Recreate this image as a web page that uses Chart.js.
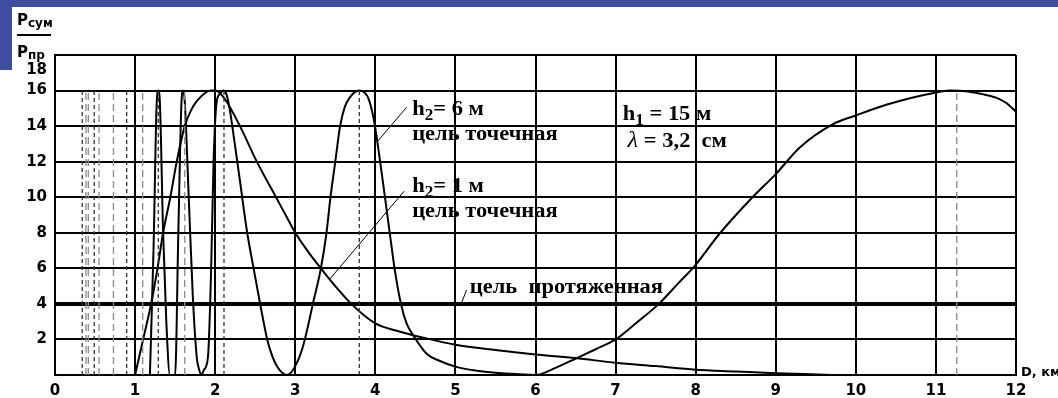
<!DOCTYPE html>
<html>
<head>
<meta charset="utf-8">
<script src="https://cdn.jsdelivr.net/npm/chart.js@4.4.1/dist/chart.umd.min.js"></script>
<style>
  html, body { margin: 0; padding: 0; }
  body { width: 1058px; height: 398px; background: #3e4d9d; position: relative; overflow: hidden; }
  #sheet { position: absolute; left: 12px; top: 7px; right: 0; bottom: 0; background: #fff; }
  #patch { position: absolute; left: 0; top: 70px; width: 12px; bottom: 0; background: #fff; }
  #chart { position: absolute; left: 0; top: 0; }
</style>
</head>
<body>
<div id="sheet"></div>
<div id="patch"></div>
<canvas id="chart" width="1058" height="398"></canvas>
<script>
// h2 = 6 м, цель точечная
const distH6 = [1.185, 1.23, 1.27, 1.29, 1.31, 1.35, 1.39, 1.435,
  1.50, 1.54, 1.58, 1.60, 1.62, 1.67, 1.72, 1.77, 1.80, 1.83, 1.86, 1.91, 1.95, 1.98, 2.02, 2.06, 2.10,
  2.14, 2.18, 2.22, 2.31, 2.40, 2.48, 2.57, 2.65, 2.71, 2.77, 2.83, 2.89, 2.95, 3.00, 3.06, 3.12, 3.22,
  3.32, 3.39, 3.44, 3.50, 3.56, 3.62, 3.68, 3.74, 3.80, 3.86, 3.91, 3.98, 4.06, 4.12, 4.18, 4.24, 4.32,
  4.39, 4.47, 4.64, 4.80, 5.00, 5.25, 5.50, 5.75, 6.00, 6.25, 6.51, 6.75, 7.00, 7.25, 7.54, 7.77, 8.00,
  8.30, 8.71, 9.00, 9.30, 9.71, 10.00, 10.38, 10.70, 10.96, 11.17, 11.40, 11.58, 11.75, 11.88, 12.00];
const powH6 = [0, 7, 15.3, 16, 15.3, 8, 3, 0,
  0, 8, 15.4, 16, 15.4, 10, 4.5, 1, 0.3, 0, 0.3, 1, 6, 12, 15.4, 15.8, 16,
  15.8, 15, 13.8, 10.9, 8, 6, 3.8, 2, 1.1, 0.5, 0.15, 0, 0.15, 0.5, 1.1, 2, 4,
  6, 8, 10, 12, 14, 15.1, 15.6, 15.9, 16, 15.9, 15.6, 14.4, 12, 10, 8, 6, 4,
  2.9, 2.25, 1.2, 0.8, 0.47, 0.25, 0.13, 0.05, 0, 0.4, 0.94, 1.45, 2, 2.9, 4, 5.1, 6.2,
  7.96, 10, 11.3, 12.8, 14.1, 14.6, 15.2, 15.6, 15.85, 16, 15.95, 15.8, 15.6, 15.3, 14.8];

// h2 = 1 м, цель точечная
const distH1 = [1.0, 1.10, 1.20, 1.28, 1.35, 1.44, 1.52, 1.62, 1.70, 1.77, 1.87, 1.94, 2.0, 2.07, 2.14,
  2.31, 2.52, 2.76, 2.88, 3.0, 3.15, 3.32, 3.5, 3.7, 4.0, 4.3, 4.6, 5.0, 5.5, 6.0, 6.5, 7.0, 7.5, 8.0,
  8.5, 9.0, 9.35, 9.7];
const powH1 = [0, 2, 4, 6, 8, 10, 12, 14, 14.9, 15.4, 15.85, 16, 16, 15.8, 15.4,
  14, 12, 10, 9, 8, 7, 6, 5, 4, 2.9, 2.45, 2.1, 1.7, 1.4, 1.15, 0.95, 0.69, 0.5, 0.3,
  0.2, 0.1, 0.05, 0];

// цель протяженная
const extDist = [0, 12];
const extPow = [4, 4];

// dashed marks of the maxima
const peakMarksDark = [0.34, 0.49, 0.895, 1.29, 2.11, 3.80];
const peakMarksGrey = [0.387, 0.416, 0.55, 0.73, 1.095, 1.62, 11.26];
const peakLevel = 16;

const xTicks = [0, 1, 2, 3, 4, 5, 6, 7, 8, 9, 10, 11, 12];
const yTicks = [2, 4, 6, 8, 10, 12, 14, 16, 18];

const toPts = (xs, ys) => xs.map((x, i) => ({ x: x, y: ys[i] }));

const curve = (xs, ys) => ({
  data: toPts(xs, ys),
  borderColor: '#000',
  borderWidth: 2,
  pointRadius: 0,
  cubicInterpolationMode: 'monotone'
});

const mark = (x, color, dash) => ({
  data: [{ x: x, y: 0 }, { x: x, y: peakLevel }],
  borderColor: color,
  borderWidth: 1.3,
  borderDash: dash,
  pointRadius: 0
});

const serif = '"Liberation Serif", "Times New Roman", serif';
const sans = '"DejaVu Sans", Verdana, sans-serif';

// draws a row of text pieces, stretched horizontally by k
function runs(ctx, x, y, parts, k) {
  k = k || 1;
  ctx.save();
  ctx.translate(x, y);
  ctx.scale(k, 1);
  let cx = 0;
  for (const p of parts) {
    ctx.font = p.f;
    ctx.fillText(p.t, cx, p.dy || 0);
    cx += ctx.measureText(p.t).width;
  }
  ctx.restore();
}

const notes = {
  id: 'notes',
  beforeDraw(chart) {
    const ctx = chart.ctx;
    const sx = chart.scales.x, sy = chart.scales.y;
    const P = (d, v) => [sx.getPixelForValue(d), sy.getPixelForValue(v)];
    const big = 'bold 21px ' + serif;
    const sub = 'bold 16px ' + serif;
    const k = 1.07;
    ctx.save();
    ctx.fillStyle = '#000';
    ctx.textBaseline = 'alphabetic';
    ctx.textAlign = 'left';

    let p = P(4.46, 14.6);
    runs(ctx, p[0], p[1], [{ t: 'h', f: big }, { t: '2', f: sub, dy: 5 }, { t: '= 6 м', f: big }], k);
    p = P(4.46, 13.2);
    runs(ctx, p[0], p[1], [{ t: 'цель точечная', f: big }], k);
    p = P(4.46, 10.3);
    runs(ctx, p[0], p[1], [{ t: 'h', f: big }, { t: '2', f: sub, dy: 5 }, { t: '= 1 м', f: big }], k);
    p = P(4.46, 8.9);
    runs(ctx, p[0], p[1], [{ t: 'цель точечная', f: big }], k);
    p = P(5.18, 4.59);
    runs(ctx, p[0], p[1], [{ t: 'цель  протяженная', f: big }], k);
    p = P(7.09, 14.33);
    runs(ctx, p[0], p[1], [{ t: 'h', f: big }, { t: '1', f: sub, dy: 5 }, { t: ' = 15 м', f: big }], k);
    p = P(7.15, 12.83);
    runs(ctx, p[0], p[1], [{ t: 'λ', f: 'italic 23px ' + serif }, { t: ' = 3,2  см', f: big }], k);

    // leader lines
    ctx.strokeStyle = '#000';
    ctx.lineWidth = 1;
    [[4.39, 15.06, 4.02, 13.1], [4.36, 10.34, 3.43, 5.39], [5.14, 4.78, 5.08, 4.1]].forEach(l => {
      const a = P(l[0], l[1]), b = P(l[2], l[3]);
      ctx.beginPath();
      ctx.moveTo(a[0], a[1]);
      ctx.lineTo(b[0], b[1]);
      ctx.stroke();
    });

    // axis titles and the crowded top tick
    const L = chart.chartArea.left, T = chart.chartArea.top, R = chart.chartArea.right, B = chart.chartArea.bottom;
    runs(ctx, L - 38, T - 30, [{ t: 'P', f: 'bold 15px ' + sans }, { t: 'сум', f: 'bold 12px ' + sans, dy: 2 }]);
    ctx.fillRect(L - 38, T - 21, 34, 2);
    runs(ctx, L - 38, T + 2, [{ t: 'P', f: 'bold 15px ' + sans }, { t: 'пр', f: 'bold 12px ' + sans, dy: 2 }]);
    runs(ctx, R + 5, B + 1, [{ t: 'D, км', f: 'bold 13px ' + sans }]);
    ctx.font = 'bold 15px ' + sans;
    ctx.textAlign = 'right';
    ctx.fillText(String(yTicks[yTicks.length - 1]), L - 8, sy.getPixelForValue(yTicks[yTicks.length - 1]) + 19);
    ctx.restore();
  }
};

new Chart(document.getElementById('chart'), {
  type: 'line',
  data: {
    datasets: [
      ...peakMarksDark.map(x => mark(x, '#333', [4, 3])),
      ...peakMarksGrey.map(x => mark(x, '#8a8a8a', [7, 4])),
      { data: toPts(extDist, extPow), borderColor: '#000', borderWidth: 4, pointRadius: 0 },
      curve(distH1, powH1),
      curve(distH6, powH6)
    ]
  },
  options: {
    responsive: false,
    animation: false,
    devicePixelRatio: 1,
    layout: { padding: { top: 55, right: 42, left: 0, bottom: 0 } },
    plugins: { legend: { display: false }, tooltip: { enabled: false } },
    scales: {
      x: {
        type: 'linear',
        min: 0,
        max: 12,
        afterBuildTicks: s => { s.ticks = xTicks.map(v => ({ value: v })); },
        afterFit: s => { s.height = 23; },
        ticks: { color: '#000', font: { family: sans, size: 15, weight: 'bold' }, padding: 7 },
        grid: { color: '#000', lineWidth: 2, drawTicks: false },
        border: { color: '#000', width: 2 }
      },
      y: {
        min: 0,
        max: 18,
        afterBuildTicks: s => { s.ticks = [0, ...yTicks].map(v => ({ value: v })); },
        afterFit: s => { s.width = 55; },
        ticks: {
          color: '#000',
          font: { family: sans, size: 15, weight: 'bold' },
          padding: 8,
          // 0 belongs to the x axis, 18 is drawn a bit lower by the plugin
          callback: v => (v === 0 || v === 18 ? '' : v)
        },
        grid: { color: '#000', lineWidth: 2, drawTicks: false },
        border: { color: '#000', width: 2 }
      }
    }
  },
  plugins: [notes]
});
</script>
</body>
</html>
